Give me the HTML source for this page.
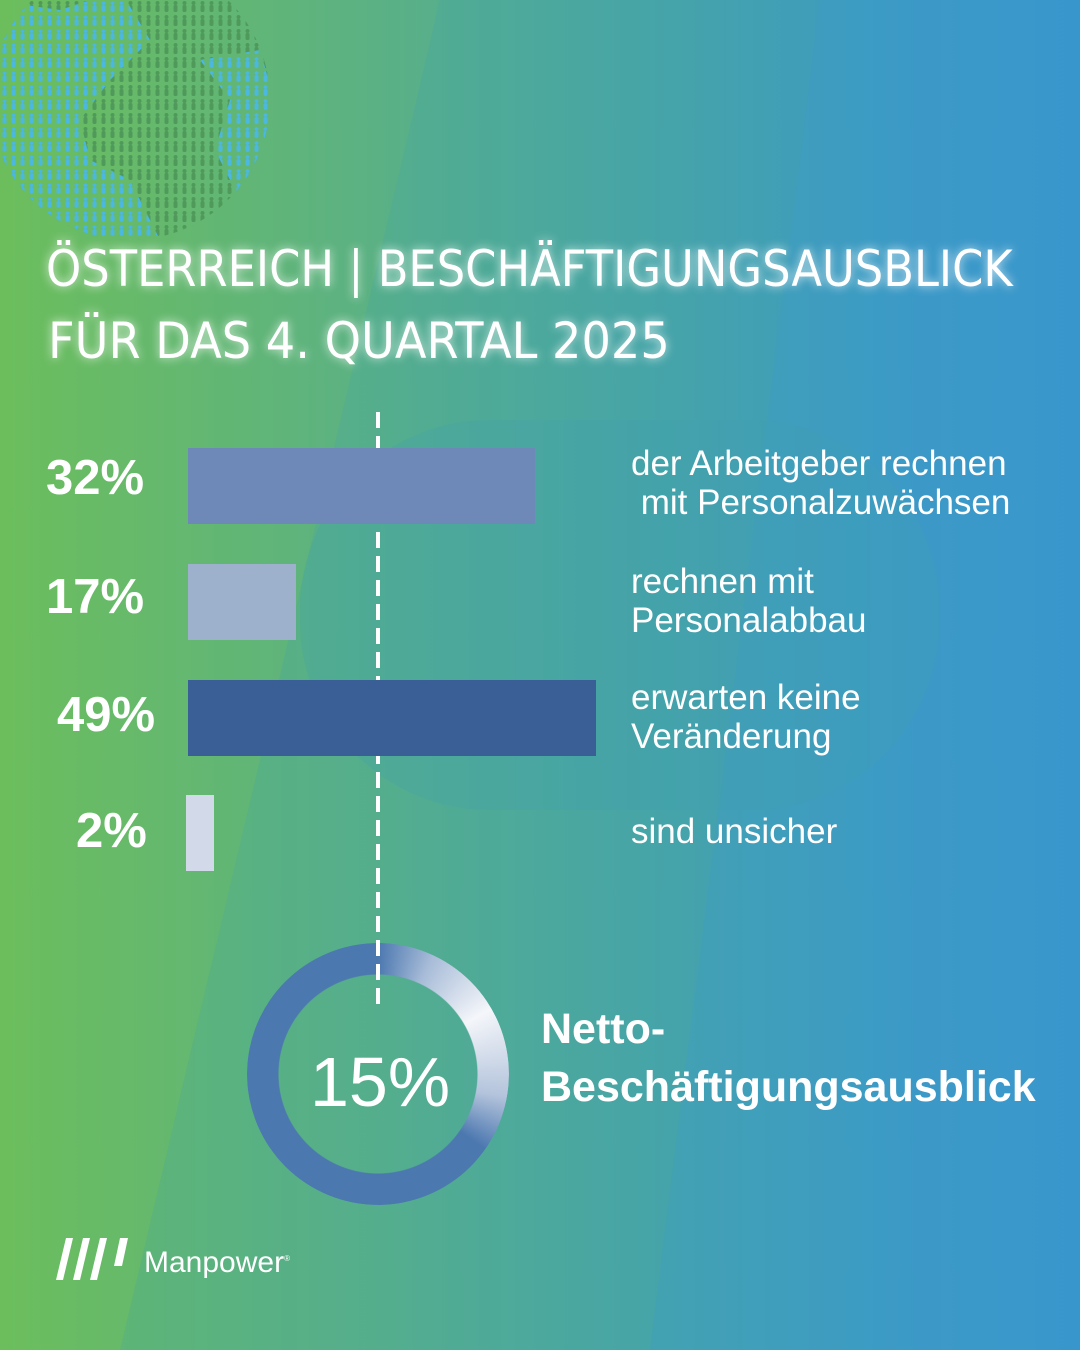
<!DOCTYPE html>
<html><head><meta charset="utf-8"><style>
body{margin:0}
#c{position:relative;width:1080px;height:1350px;overflow:hidden;background:linear-gradient(90deg,#6cbe5c 0%,#5bb184 35%,#4aa6a4 60%,#3d98c8 85%,#3a93d2 100%);font-family:"Liberation Sans",sans-serif;color:#fff}
.t{position:absolute;white-space:nowrap}
.p{font-weight:bold;font-size:49px}
.r{font-size:35px;line-height:39px}
.bar{position:absolute}
.h{font-size:50px;font-family:'DejaVu Sans',sans-serif;text-shadow:0 0 10px rgba(255,255,255,.8);transform-origin:0 0}
#ring{position:absolute;left:247px;top:943px;width:262px;height:262px;border-radius:50%;
background:conic-gradient(from 0deg,#4c78b0 0deg,#a8bcd8 25deg,#f4f6fa 60deg,#b4c4dc 100deg,#4c78b0 125deg,#4c78b0 360deg);
-webkit-mask:radial-gradient(circle,transparent 99px,#000 100px);mask:radial-gradient(circle,transparent 99px,#000 100px)}
</style></head><body><div id="c">
<svg width="1080" height="1350" style="position:absolute;left:0;top:0">
<defs>
<pattern id="pp" width="9" height="14" patternUnits="userSpaceOnUse"><circle cx="4.5" cy="3" r="2" fill="#4f9a5a"/><rect x="2.5" y="5" width="4" height="7" rx="1.5" fill="#4f9a5a"/></pattern>
<pattern id="pb" width="9" height="14" patternUnits="userSpaceOnUse"><circle cx="4.5" cy="3" r="2" fill="#4cb8e0"/><rect x="2.5" y="5" width="4" height="7" rx="1.5" fill="#4cb8e0"/></pattern>
<clipPath id="g"><circle cx="130" cy="100" r="140"/></clipPath>
</defs>
<polygon points="440,0 1080,0 1080,1350 120,1350" fill="#3aa0b8" opacity="0.18"/>
<polygon points="820,0 1080,0 1080,1350 650,1350" fill="#3d9ad0" opacity="0.25"/>
<rect x="300" y="420" width="640" height="390" rx="190" fill="#3fa0b0" opacity="0.25"/>
<g clip-path="url(#g)">
<rect x="-20" y="-50" width="300" height="300" fill="url(#pp)"/>
<path d="M-10 0 L60 10 L120 -10 L150 40 L110 80 L80 120 L90 160 L130 180 L160 240 L60 250 L20 200 L-10 180Z" fill="url(#pb)"/>
<path d="M200 60 L260 50 L280 120 L240 200 L215 150 L230 100Z" fill="url(#pb)"/>
</g>
</svg>
<div id="ring"></div>
<svg width="1080" height="1350" style="position:absolute;left:0;top:0">
<line x1="378" y1="412" x2="378" y2="1005" stroke="#fff" stroke-width="4" stroke-dasharray="16 8"/>
</svg>
<div class="t h" style="left:46px;top:240px;transform:scaleX(0.896)">ÖSTERREICH | BESCHÄFTIGUNGSAUSBLICK</div>
<div class="t h" style="left:48px;top:312px;transform:scaleX(0.925)">FÜR DAS 4. QUARTAL 2025</div>
<div class="bar" style="left:188px;top:448px;width:347px;height:76px;background:#6e88b8"></div>
<div class="bar" style="left:188px;top:564px;width:108px;height:76px;background:#9db1cc"></div>
<div class="bar" style="left:188px;top:680px;width:408px;height:76px;background:#3a5f96"></div>
<div class="bar" style="left:186px;top:795px;width:28px;height:76px;background:#d2dae9"></div>
<div class="t p" style="left:46px;top:450px">32%</div>
<div class="t p" style="left:46px;top:569px">17%</div>
<div class="t p" style="left:57px;top:687px">49%</div>
<div class="t p" style="left:76px;top:803px">2%</div>
<div class="t r" style="left:631px;top:444px">der Arbeitgeber rechnen<br>&nbsp;mit Personalzuwächsen</div>
<div class="t r" style="left:631px;top:562px">rechnen mit<br>Personalabbau</div>
<div class="t r" style="left:631px;top:678px">erwarten keine<br>Veränderung</div>
<div class="t r" style="left:631px;top:812px">sind unsicher</div>
<div class="t" style="left:310px;top:1042px;font-size:70px">15%</div>
<div class="t" style="left:541px;top:1000px;font-size:43px;font-weight:bold;line-height:58px">Netto-<br>Beschäftigungsausblick</div>
<svg style="position:absolute;left:56px;top:1238px" width="80" height="44"><g fill="#fff"><polygon points="10,0 17,0 7,42 0,42"/><polygon points="27,0 34,0 24,42 17,42"/><polygon points="44,0 51,0 41,42 34,42"/><polygon points="64,0 72,0 66,28 58,28"/></g></svg>
<div class="t" style="left:144px;top:1246px;font-size:30px">Manpower<sup style="font-size:8px">®</sup></div>
</div></body></html>
